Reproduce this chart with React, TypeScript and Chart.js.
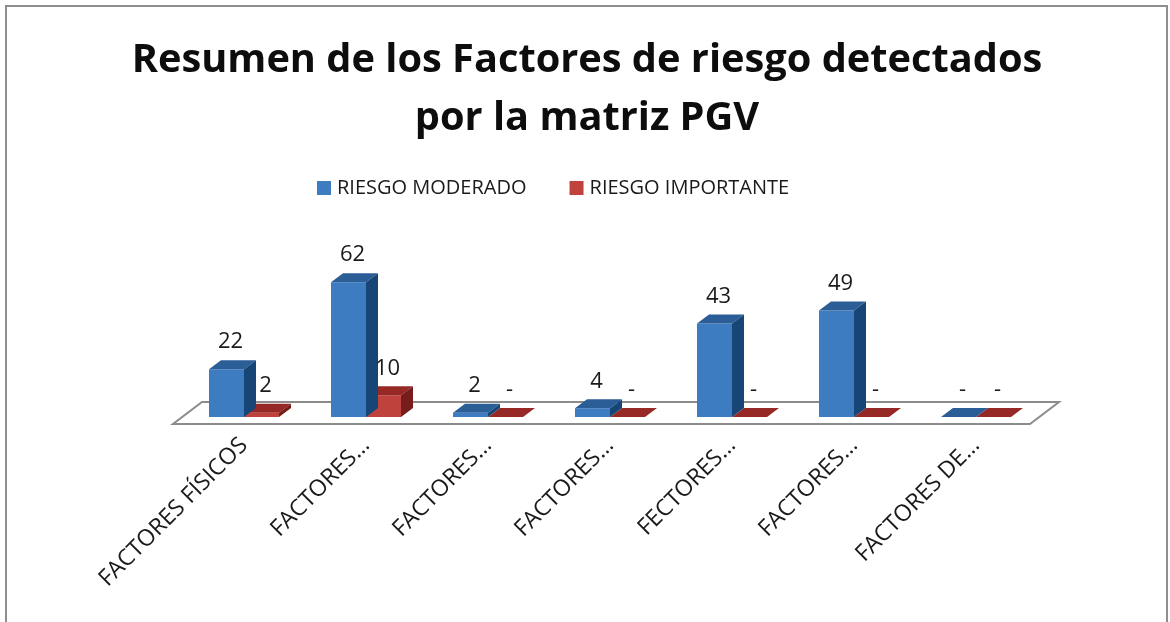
import React, { useEffect, useRef } from "react";
import { Chart, registerables } from "chart.js";

Chart.register(...registerables);

const categories = [
  "FACTORES FÍSICOS",
  "FACTORES…",
  "FACTORES…",
  "FACTORES…",
  "FECTORES…",
  "FACTORES…",
  "FACTORES DE…",
];
const riesgoModerado = [22, 62, 2, 4, 43, 49, 0];
const riesgoImportante = [2, 10, 0, 0, 0, 0, 0];
const seriesNames = ["RIESGO MODERADO", "RIESGO IMPORTANTE"];
const titleLines = ["Resumen de los Factores de riesgo detectados", "por la matriz PGV"];
const yMax = 80;

const frontColors = ["#3d7cc0", "#c0423d"];
const topColors = ["#2b5e97", "#962925"];
const sideColors = ["#174676", "#761c1a"];

const FONT = '"Open Sans", "Noto Sans", sans-serif';
const DX = 12;
const DY = 9;

const framePlugin = {
  id: "frame",
  beforeDraw(chart: any) {
    const { ctx } = chart;
    ctx.save();
    ctx.fillStyle = "#ffffff";
    ctx.fillRect(0, 0, chart.width, chart.height);
    ctx.strokeStyle = "#8e8e8e";
    ctx.lineWidth = 2;
    ctx.strokeRect(6, 6, 1161, 700);
    ctx.restore();
  },
};

const legendPlugin = {
  id: "customLegend",
  afterDraw(chart: any) {
    const { ctx } = chart;
    ctx.save();
    ctx.font = `20px ${FONT}`;
    ctx.textBaseline = "middle";
    ctx.textAlign = "left";
    let x = 317;
    const cy = 188;
    chart.data.datasets.forEach((ds: any, i: number) => {
      ctx.fillStyle = frontColors[i];
      ctx.fillRect(x, cy - 7, 14, 14);
      x += 20;
      ctx.fillStyle = "#1a1a1a";
      ctx.fillText(ds.label, x, cy);
      x += ctx.measureText(ds.label).width + 43;
    });
    ctx.restore();
  },
};

const bars3dPlugin = {
  id: "bars3d",
  beforeDatasetsDraw(chart: any) {
    const { ctx, chartArea: a } = chart;
    const y0 = chart.scales.y.getPixelForValue(0);
    const fl = a.left - 10;
    const fr = a.right - 7;
    const fy = y0 + 7;
    const ox = 29;
    const oy = 22;
    ctx.save();
    ctx.beginPath();
    ctx.moveTo(fl, fy);
    ctx.lineTo(fr, fy);
    ctx.lineTo(fr + ox, fy - oy);
    ctx.lineTo(fl + ox, fy - oy);
    ctx.closePath();
    ctx.fillStyle = "#ffffff";
    ctx.fill();
    ctx.strokeStyle = "#8c8c8c";
    ctx.lineWidth = 2;
    ctx.stroke();
    ctx.restore();
  },
  afterDatasetDraw(chart: any, args: any) {
    const { ctx } = chart;
    const i = args.index;
    const meta = chart.getDatasetMeta(i);
    ctx.save();
    meta.data.forEach((bar: any) => {
      const { x, y, base, width } = bar.getProps(["x", "y", "base", "width"], true);
      const l = x - width / 2;
      const r = x + width / 2;
      ctx.fillStyle = topColors[i];
      ctx.beginPath();
      ctx.moveTo(l, y);
      ctx.lineTo(r, y);
      ctx.lineTo(r + DX, y - DY);
      ctx.lineTo(l + DX, y - DY);
      ctx.closePath();
      ctx.fill();
      if (base - y > 0.5) {
        ctx.fillStyle = sideColors[i];
        ctx.beginPath();
        ctx.moveTo(r, y);
        ctx.lineTo(r + DX, y - DY);
        ctx.lineTo(r + DX, base - DY);
        ctx.lineTo(r, base);
        ctx.closePath();
        ctx.fill();
      }
    });
    ctx.restore();
  },
  afterDatasetsDraw(chart: any) {
    const { ctx } = chart;
    ctx.save();
    ctx.font = `22px ${FONT}`;
    ctx.fillStyle = "#1a1a1a";
    ctx.textAlign = "center";
    ctx.textBaseline = "middle";
    chart.data.datasets.forEach((ds: any, i: number) => {
      const meta = chart.getDatasetMeta(i);
      meta.data.forEach((bar: any, j: number) => {
        const v = ds.data[j];
        const text = v === 0 ? "-" : String(v);
        ctx.fillText(text, bar.x + 4, bar.y - 27);
      });
    });
    ctx.restore();
  },
};

export default function App() {
  const ref = useRef<HTMLCanvasElement | null>(null);

  useEffect(() => {
    if (!ref.current) return;
    const chart = new Chart(ref.current, {
      type: "bar",
      data: {
        labels: categories,
        datasets: [
          {
            label: seriesNames[0],
            data: riesgoModerado,
            backgroundColor: frontColors[0],
            borderWidth: 0,
          },
          {
            label: seriesNames[1],
            data: riesgoImportante,
            backgroundColor: frontColors[1],
            borderWidth: 0,
          },
        ],
      },
      options: {
        animation: false,
        responsive: false,
        devicePixelRatio: 1,
        datasets: {
          bar: { categoryPercentage: 0.574, barPercentage: 1 },
        },
        layout: { padding: { left: 4, right: 0, top: 0, bottom: 0 } },
        plugins: {
          title: {
            display: true,
            text: titleLines,
            color: "#0d0d0d",
            font: { family: FONT, size: 39.75, weight: "bold", lineHeight: 58 / 39.75 },
            padding: { top: 32, bottom: 95 },
          },
          legend: { display: false },
          tooltip: { enabled: false },
        },
        scales: {
          x: {
            grid: { display: false, drawTicks: false },
            border: { display: false },
            ticks: {
              autoSkip: false,
              minRotation: 45,
              maxRotation: 45,
              padding: 15,
              color: "#1a1a1a",
              font: { family: FONT, size: 23 },
            },
            afterFit: (scale: any) => {
              scale.height = 205;
            },
          },
          y: {
            display: true,
            position: "left",
            min: 0,
            max: yMax,
            grid: { display: false },
            border: { display: false },
            ticks: { display: false },
            afterFit: (scale: any) => {
              scale.width = 179;
            },
          },
          yRight: {
            type: "linear",
            display: true,
            position: "right",
            grid: { display: false },
            border: { display: false },
            ticks: { display: false },
            afterFit: (scale: any) => {
              scale.width = 133;
            },
          },
        },
      },
      plugins: [framePlugin, bars3dPlugin, legendPlugin],
    });
    return () => chart.destroy();
  }, []);

  return (
    <div style={{ position: "fixed", left: 0, top: 0, width: 1170, height: 622 }}>
      <canvas ref={ref} width={1170} height={622} style={{ display: "block" }} />
    </div>
  );
}
